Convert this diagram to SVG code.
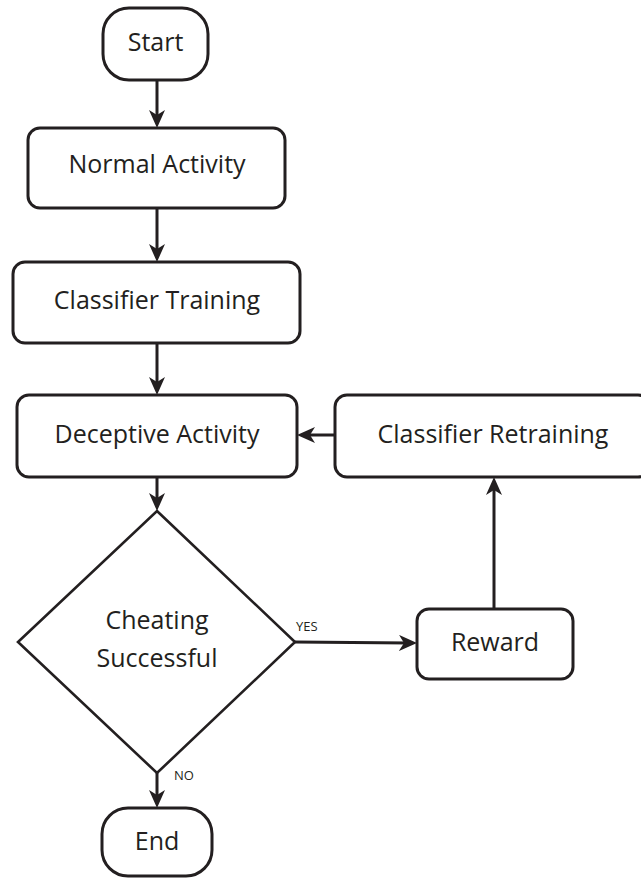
<svg xmlns="http://www.w3.org/2000/svg" width="641" height="878" viewBox="0 0 641 878">
<style>
.box{fill:#fff;stroke:#231f20;stroke-width:3}
.dia{fill:#fff;stroke:#231f20;stroke-width:2.6}
.t{font-family:"Open Sans","Noto Sans",sans-serif;font-size:25px;fill:#231f20;text-anchor:middle}
.s{font-family:"Open Sans","Noto Sans",sans-serif;font-size:13px;fill:#231f20}
.c{fill:none;stroke:#231f20;stroke-width:3}
</style>
<defs>
<marker id="ah" markerUnits="userSpaceOnUse" viewBox="0 0 18 16" refX="10" refY="8" markerWidth="18" markerHeight="16" orient="auto">
<path d="M0,0 L18,8 L0,16 L5,8 z" fill="#231f20"/>
</marker>
</defs>
<rect width="641" height="878" fill="#fff"/>
<g id="connectors">
<line class="c" x1="157" y1="80" x2="157" y2="120" marker-end="url(#ah)"/>
<line class="c" x1="157" y1="208" x2="157" y2="254" marker-end="url(#ah)"/>
<line class="c" x1="157" y1="343" x2="157" y2="387" marker-end="url(#ah)"/>
<line class="c" x1="157" y1="477" x2="157" y2="503" marker-end="url(#ah)"/>
<line class="c" x1="157" y1="773" x2="157" y2="800" marker-end="url(#ah)"/>
<line class="c" x1="295" y1="642" x2="409" y2="643" marker-end="url(#ah)"/>
<line class="c" x1="494" y1="609" x2="494" y2="485" marker-end="url(#ah)"/>
<line class="c" x1="335" y1="435" x2="305" y2="435" marker-end="url(#ah)"/>
<text class="s" x="296" y="631">YES</text>
<text class="s" x="174" y="780">NO</text>
</g>
<g id="start">
<rect class="box" x="103" y="8" width="105" height="72" rx="26"/>
<text class="t" x="155.5" y="51">Start</text>
</g>
<g id="normal">
<rect class="box" x="28" y="128" width="257" height="80" rx="12"/>
<text class="t" x="157" y="173">Normal Activity</text>
</g>
<g id="training">
<rect class="box" x="13" y="262" width="287" height="81" rx="12"/>
<text class="t" x="157" y="309">Classifier Training</text>
</g>
<g id="deceptive">
<rect class="box" x="17" y="395" width="280" height="82" rx="12"/>
<text class="t" x="157" y="443">Deceptive Activity</text>
</g>
<g id="retraining">
<rect class="box" x="335" y="395" width="315" height="82" rx="12"/>
<text class="t" x="493" y="443">Classifier Retraining</text>
</g>
<g id="decision">
<polygon class="dia" points="157,511 295,642 157,773 18,642"/>
<text class="t" x="157" y="629">Cheating</text>
<text class="t" x="157" y="667">Successful</text>
</g>
<g id="reward">
<rect class="box" x="417" y="609" width="156" height="70" rx="12"/>
<text class="t" x="495" y="651">Reward</text>
</g>
<g id="end">
<rect class="box" x="102" y="808" width="110" height="68" rx="26"/>
<text class="t" x="157" y="850">End</text>
</g>
</svg>
